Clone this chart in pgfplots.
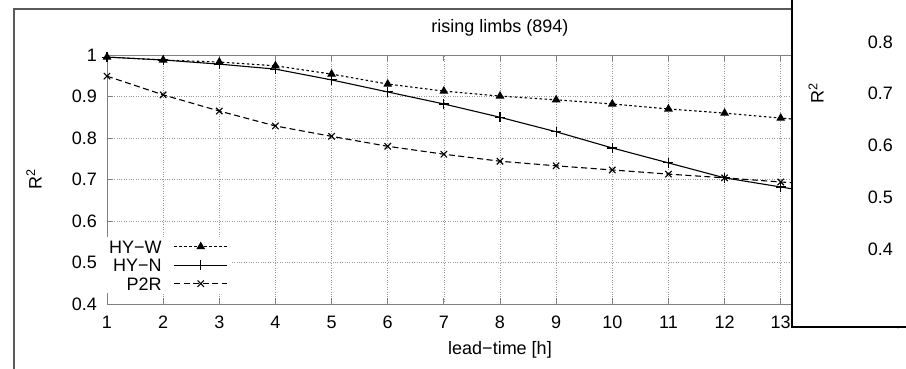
\documentclass[border=0pt]{standalone}
\usepackage{fontspec}
\setmainfont{Liberation Sans}
\usepackage{pgfplots}
\pgfplotsset{compat=1.18}
\begin{document}
\fontsize{18}{21.6}\selectfont
\begin{tikzpicture}[x=1pt,y=1pt]
\useasboundingbox (0,0) rectangle (906,368);
\draw[line width=2pt, black!65] (14,-5) -- (14,359) -- (800,359);
\begin{axis}[
  at={(107pt,64pt)}, anchor=south west, scale only axis,
  width=786pt, height=249pt,
  xmin=1, xmax=15, ymin=0.4, ymax=1,
  xtick={1,2,3,4,5,6,7,8,9,10,11,12,13,14,15},
  xticklabels={1,2,3,4,5,6,7,8,9,10,11,12,13,14,15},
  ytick={0.4,0.5,0.6,0.7,0.8,0.9,1},
  yticklabels={0.4,0.5,0.6,0.7,0.8,0.9,1},
  tick align=inside, major tick length=6pt,
  tick style={black!50, line width=0.8pt},
  axis line style={black!50, line width=1pt},
  grid=major,
  grid style={black!40, dotted, line width=0.6pt},
  xticklabel style={anchor=north, inner sep=0pt, yshift=-12pt},
  yticklabel style={anchor=east, inner sep=0pt, xshift=-10pt},
  xlabel={lead\textminus time [h]},
  xlabel style={at={(axis description cs:0.5,-0.1847)}, anchor=center},
  ylabel={R\textsuperscript{2}},
  ylabel style={at={(axis description cs:-0.0929,0.5)}, anchor=center},
  legend plot pos=right,
  legend cell align=right,
  legend style={at={(axis description cs:0,0.269)}, anchor=north west,
    draw=none, fill=white, inner xsep=2pt, inner ysep=3pt,
    nodes={inner sep=0pt, text height=12.9pt, text depth=0pt},
    row sep=5.6pt, column sep=12pt},
  legend image code/.code={
    \draw[#1, mark=none] (0pt,0pt) -- (53pt,0pt);
    \draw[#1, solid] plot coordinates {(26.5pt,0pt)};
  },
]
\addplot[black, line width=1.1pt, dash pattern=on 2.5pt off 2.5pt,
  mark=triangle*, mark size=4pt, mark options={solid}]
  coordinates {(1,0.995) (2,0.988) (3,0.983) (4,0.974) (5,0.954) (6,0.930)
  (7,0.913) (8,0.901) (9,0.892) (10,0.882) (11,0.870) (12,0.860) (13,0.848)
  (14,0.837) (15,0.826)};
\addlegendentry{HY\textminus W}
\addplot[black, line width=1.1pt, solid,
  mark=+, mark size=5pt]
  coordinates {(1,0.995) (2,0.988) (3,0.978) (4,0.966) (5,0.940) (6,0.911)
  (7,0.882) (8,0.850) (9,0.815) (10,0.776) (11,0.740) (12,0.704) (13,0.682)
  (14,0.660) (15,0.640)};
\addlegendentry{HY\textminus N}
\addplot[black, line width=1.1pt, dash pattern=on 6pt off 3.5pt,
  mark=x, mark size=4.5pt, mark options={solid}]
  coordinates {(1,0.949) (2,0.904) (3,0.865) (4,0.829) (5,0.804) (6,0.780)
  (7,0.761) (8,0.744) (9,0.733) (10,0.723) (11,0.713) (12,0.704) (13,0.694)
  (14,0.685) (15,0.676)};
\addlegendentry{P2R}
\end{axis}
\node[anchor=center] at (500,340) {rising limbs (894)};
\fill[white] (792,41) rectangle (912,374);
\draw[black, line width=1.2pt] (792,374) -- (792,41) -- (912,41);
\begin{axis}[
  at={(893pt,119pt)}, anchor=south west, scale only axis,
  width=5pt, height=207pt,
  xmin=0, xmax=1, ymin=0.4, ymax=0.8,
  axis line style={draw=none},
  xtick=\empty,
  ytick={0.4,0.5,0.6,0.7,0.8},
  yticklabels={0.4,0.5,0.6,0.7,0.8},
  ytick pos=left,
  ytick style={draw=none},
  yticklabel style={anchor=east, inner sep=0pt},
  ylabel={R\textsuperscript{2}},
  ylabel style={at={(axis description cs:-15.4,0.754)}, anchor=center},
]
\end{axis}
\end{tikzpicture}
\end{document}
